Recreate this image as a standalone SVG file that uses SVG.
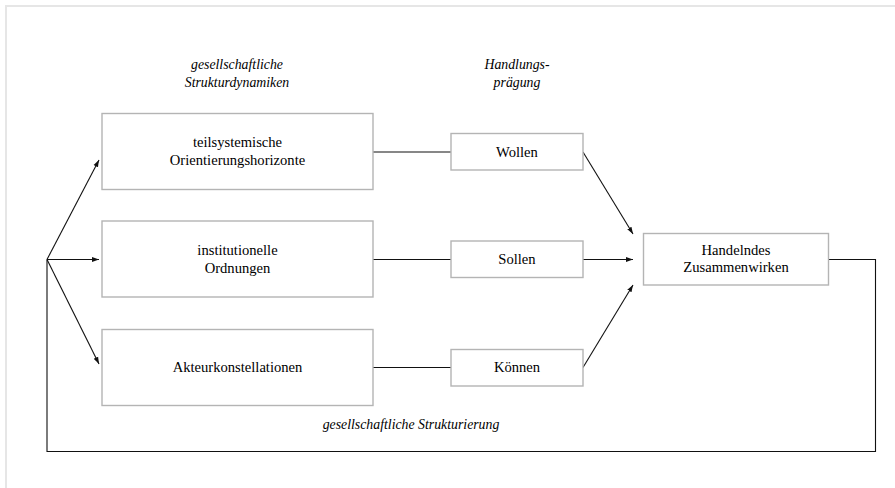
<svg xmlns="http://www.w3.org/2000/svg" width="895" height="488" viewBox="0 0 895 488">
<defs>
<style>
.box{fill:#fff;stroke:#b4b4b4;stroke-width:1.4}
.t{font-family:"Liberation Serif","Times New Roman",serif;font-size:14.6px;fill:#000;text-anchor:middle}
.i{font-family:"Liberation Serif","Times New Roman",serif;font-size:13.8px;font-style:italic;fill:#000;text-anchor:middle}
.c{fill:none;stroke:#111;stroke-width:1.1}
</style>
<marker id="ah" viewBox="0 0 10 10" refX="10" refY="5" markerWidth="7" markerHeight="7" markerUnits="userSpaceOnUse" orient="auto">
<path d="M0,1.5 L10,5 L0,8.5 z" fill="#111"/>
</marker>
</defs>
<rect width="895" height="488" fill="#fff"/>
<path d="M6,488 V6 H895" fill="none" stroke="#e6e6e6" stroke-width="2"/>

<g id="headers">
<text class="i" x="237" y="69">gesellschaftliche</text>
<text class="i" x="237" y="87">Strukturdynamiken</text>
<text class="i" x="517" y="69">Handlungs-</text>
<text class="i" x="517" y="87">prägung</text>
<text class="i" x="411" y="429">gesellschaftliche Strukturierung</text>
</g>

<g id="connectors">
<line class="c" x1="373" y1="152" x2="451" y2="152"/>
<line class="c" x1="373" y1="259.5" x2="451" y2="259.5"/>
<line class="c" x1="373" y1="367.5" x2="451" y2="367.5"/>
<line class="c" x1="47" y1="259.5" x2="99" y2="160" marker-end="url(#ah)"/>
<line class="c" x1="47" y1="259.5" x2="99" y2="259.5" marker-end="url(#ah)"/>
<line class="c" x1="47" y1="259.5" x2="99" y2="364" marker-end="url(#ah)"/>
<line class="c" x1="583" y1="152" x2="633" y2="234" marker-end="url(#ah)"/>
<line class="c" x1="583" y1="259.5" x2="633" y2="259.5" marker-end="url(#ah)"/>
<line class="c" x1="583" y1="367.5" x2="633" y2="285" marker-end="url(#ah)"/>
<polyline class="c" points="828,259.5 875.5,259.5 875.5,451.5 47,451.5 47,259.5"/>
</g>

<g id="n1">
<rect class="box" x="102" y="113.5" width="271" height="76"/>
<text class="t" x="237.5" y="147">teilsystemische</text>
<text class="t" x="237.5" y="165">Orientierungshorizonte</text>
</g>
<g id="n2">
<rect class="box" x="102" y="221" width="271" height="76"/>
<text class="t" x="237.5" y="255">institutionelle</text>
<text class="t" x="237.5" y="272.5">Ordnungen</text>
</g>
<g id="n3">
<rect class="box" x="102" y="329.5" width="271" height="76"/>
<text class="t" x="237.5" y="372">Akteurkonstellationen</text>
</g>
<g id="n4">
<rect class="box" x="451" y="133.5" width="132" height="36.5"/>
<text class="t" x="517" y="156.5">Wollen</text>
</g>
<g id="n5">
<rect class="box" x="451" y="241" width="132" height="36.5"/>
<text class="t" x="517" y="264">Sollen</text>
</g>
<g id="n6">
<rect class="box" x="451" y="349.5" width="132" height="36.5"/>
<text class="t" x="517" y="372">Können</text>
</g>
<g id="n7">
<rect class="box" x="643.5" y="233.5" width="185" height="51.5"/>
<text class="t" x="736" y="255">Handelndes</text>
<text class="t" x="736" y="272">Zusammenwirken</text>
</g>
</svg>
